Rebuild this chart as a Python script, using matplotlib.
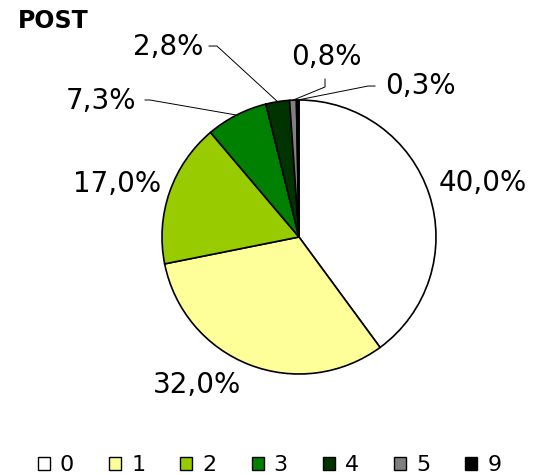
import numpy as np
import matplotlib.pyplot as plt
from matplotlib.patches import Patch

categories = ['0', '1', '2', '3', '4', '5', '9']
values = [40.0, 32.0, 17.0, 7.3, 2.8, 0.8, 0.3]
labels = ['40,0%', '32,0%', '17,0%', '7,3%', '2,8%', '0,8%', '0,3%']
colors = ['#ffffff', '#ffff99', '#99cc00', '#008000', '#003300', '#808080', '#000000']

# label text positions (pie radius = 1)
label_pos = [(1.343, 0.394), (-0.745, -1.08), (-1.328, 0.387), (-1.445, 0.993),
             (-0.956, 1.387), (0.197, 1.314), (0.883, 1.102)]
# leader lines: first two points of the polyline, then it goes to the wedge edge
leaders = [None, None, None,
           [(-1.124, 1.0), (-1.088, 1.0)],
           [(-0.657, 1.394), (-0.599, 1.394)],
           [(0.19, 1.153), (0.19, 1.095)],
           [(0.555, 1.102), (0.504, 1.102)]]

fig = plt.figure(figsize=(5.35, 4.75), dpi=100)
ax = fig.add_axes([0, 0, 1, 1])

wedges, _ = ax.pie(values, colors=colors, startangle=90, counterclock=False,
                   wedgeprops=dict(edgecolor='black', linewidth=1.2))

total = sum(values)
cum = 0
for i, v in enumerate(values):
    mid = (cum + v / 2) / total * 360
    cum += v
    ang = np.deg2rad(90 - mid)
    ex, ey = np.cos(ang), np.sin(ang)
    tx, ty = label_pos[i]
    ax.text(tx, ty, labels[i], ha='center', va='center', fontsize=20)
    if leaders[i] is not None:
        (x0, y0), (x1, y1) = leaders[i]
        ax.plot([x0, x1, ex], [y0, y1, ey], color='black', lw=0.7)

ax.set_xlim(-299 / 137, (535 - 299) / 137)
ax.set_ylim(-(475 - 237) / 137, 237 / 137)
ax.set_aspect('auto')
ax.axis('off')

fig.text(18 / 535, 1 - 21 / 475, 'POST', fontsize=17, fontweight='bold', ha='left', va='center')

handles = [Patch(facecolor=c, edgecolor='black', linewidth=1.0) for c in colors]
fig.legend(handles, categories, loc='center', bbox_to_anchor=(0.504, 0.021), ncol=7,
           frameon=False, fontsize=16, handlelength=0.54, handleheight=0.54,
           handletextpad=0.45, columnspacing=1.58, borderpad=0)

fig.savefig('out.png', dpi=100)
